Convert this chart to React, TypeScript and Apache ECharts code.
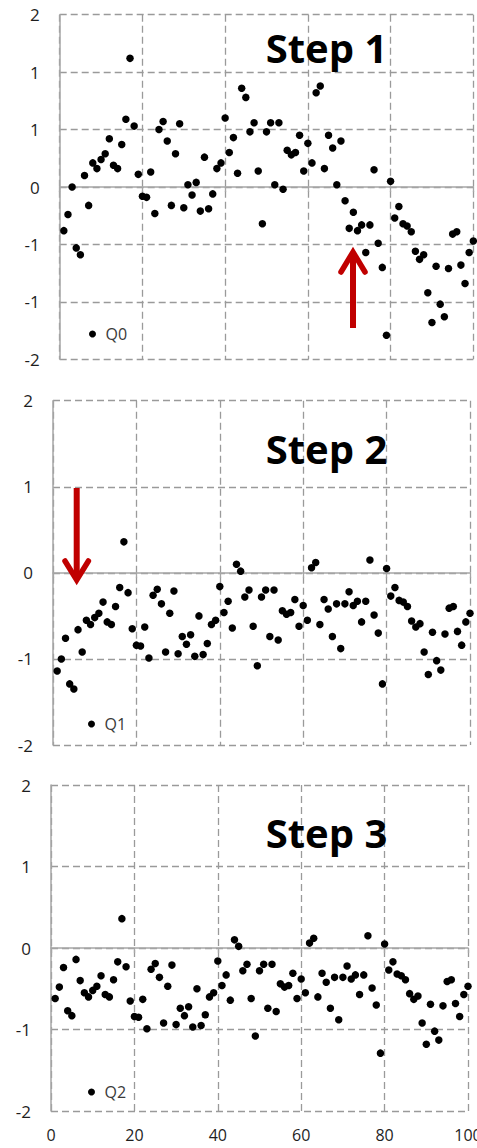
import React, { useEffect, useRef } from "react";
import * as echarts from "echarts";

// Q0: original series (top panel)
const q0 = [
  -0.38, -0.24, 0.0, -0.53, -0.59, 0.1, -0.16, 0.21, 0.16, 0.24,
  0.29, 0.42, 0.19, 0.16, 0.37, 0.59, 1.12, 0.53, 0.11, -0.08,
  -0.09, 0.13, -0.23, 0.5, 0.57, 0.4, -0.16, 0.29, 0.55, -0.18,
  0.02, -0.07, 0.04, -0.21, 0.26, -0.19, -0.06, 0.16, 0.21, 0.6,
  0.3, 0.43, 0.12, 0.86, 0.78, 0.48, 0.56, 0.14, -0.32, 0.48,
  0.56, 0.02, 0.56, -0.02, 0.32, 0.28, 0.3, 0.45, 0.14, 0.38,
  0.21, 0.82, 0.88, 0.16, 0.45, 0.34, 0.02, 0.4, -0.12, -0.36,
  -0.22, -0.38, -0.33, -0.57, -0.33, 0.15, -0.49, -0.7, -1.29, 0.05,
  -0.27, -0.17, -0.32, -0.34, -0.39, -0.56, -0.63, -0.59, -0.92, -1.18,
  -0.69, -1.02, -1.13, -0.71, -0.41, -0.39, -0.68, -0.84, -0.57, -0.47,
];

// Q1: after step 1 (middle panel)
const q1 = [
  -1.14, -1.0, -0.76, -1.29, -1.35, -0.66, -0.92, -0.55, -0.6, -0.52,
  -0.47, -0.34, -0.57, -0.6, -0.39, -0.17, 0.36, -0.23, -0.65, -0.84,
  -0.85, -0.63, -0.99, -0.26, -0.19, -0.36, -0.92, -0.47, -0.21, -0.94,
  -0.74, -0.83, -0.72, -0.97, -0.5, -0.95, -0.82, -0.6, -0.55, -0.16,
  -0.46, -0.33, -0.64, 0.1, 0.02, -0.28, -0.2, -0.62, -1.08, -0.28,
  -0.2, -0.74, -0.2, -0.78, -0.44, -0.48, -0.46, -0.31, -0.62, -0.38,
  -0.55, 0.06, 0.12, -0.6, -0.31, -0.42, -0.74, -0.36, -0.88, -0.36,
  -0.22, -0.38, -0.33, -0.57, -0.33, 0.15, -0.49, -0.7, -1.29, 0.05,
  -0.27, -0.17, -0.32, -0.34, -0.39, -0.56, -0.63, -0.59, -0.92, -1.18,
  -0.69, -1.02, -1.13, -0.71, -0.41, -0.39, -0.68, -0.84, -0.57, -0.47,
];

// Q2: after step 2 (bottom panel)
const q2 = [
  -0.62, -0.48, -0.24, -0.77, -0.83, -0.14, -0.4, -0.55, -0.6, -0.52,
  -0.47, -0.34, -0.57, -0.6, -0.39, -0.17, 0.36, -0.23, -0.65, -0.84,
  -0.85, -0.63, -0.99, -0.26, -0.19, -0.36, -0.92, -0.47, -0.21, -0.94,
  -0.74, -0.83, -0.72, -0.97, -0.5, -0.95, -0.82, -0.6, -0.55, -0.16,
  -0.46, -0.33, -0.64, 0.1, 0.02, -0.28, -0.2, -0.62, -1.08, -0.28,
  -0.2, -0.74, -0.2, -0.78, -0.44, -0.48, -0.46, -0.31, -0.62, -0.38,
  -0.55, 0.06, 0.12, -0.6, -0.31, -0.42, -0.74, -0.36, -0.88, -0.36,
  -0.22, -0.38, -0.33, -0.57, -0.33, 0.15, -0.49, -0.7, -1.29, 0.05,
  -0.27, -0.17, -0.32, -0.34, -0.39, -0.56, -0.63, -0.59, -0.92, -1.18,
  -0.69, -1.02, -1.13, -0.71, -0.41, -0.39, -0.68, -0.84, -0.57, -0.47,
];

const seriesNames = ["Q0", "Q1", "Q2"];
const stepLabels = ["Step 1", "Step 2", "Step 3"];

const FONT = "'Open Sans', 'Liberation Sans', sans-serif";
const GRID_COLOR = "#9a9a9a";
const AXIS_COLOR = "#a6a6a6";
const LABEL_COLOR = "#1e1e1e";
const ARROW_COLOR = "#c00000";

const excelRound = (v: number) => {
  const r = Math.round(Math.abs(v) + 1e-9);
  const s = v < 0 && r !== 0 ? "-" : "";
  return s + r;
};

const splitLine = {
  show: true,
  lineStyle: { color: GRID_COLOR, width: 1.3, type: [7, 4] as any },
};

function makeX(gridIndex: number, extra: any = {}) {
  return {
    type: "value",
    gridIndex,
    min: 0,
    max: 100,
    interval: 20,
    position: "bottom",
    axisLine: { show: true, onZero: true, lineStyle: { color: AXIS_COLOR, width: 1.5 } },
    axisTick: { show: true, length: 5, lineStyle: { color: AXIS_COLOR, width: 1.3 } },
    axisLabel: { show: false },
    splitLine,
    ...extra,
  };
}

function makeY(gridIndex: number, min: number, max: number, interval: number) {
  return {
    type: "value",
    gridIndex,
    min,
    max,
    interval,
    axisLine: { show: true, onZero: false, lineStyle: { color: AXIS_COLOR, width: 1.5 } },
    axisTick: { show: false },
    axisLabel: {
      show: true,
      margin: 20,
      fontSize: 17,
      fontFamily: FONT,
      color: LABEL_COLOR,
      formatter: (v: number) => excelRound(v),
    },
    splitLine,
  };
}

export default function App() {
  const ref = useRef<HTMLDivElement>(null);

  useEffect(() => {
    if (!ref.current) return;
    const chart = echarts.init(ref.current, undefined, { renderer: "svg" });
    const toData = (arr: number[]) => arr.map((v, i) => [i + 1, v]);

    const legendAt = (name: string, left: number, top: number) => ({
      data: [name],
      left,
      top,
      padding: 0,
      icon: "circle",
      itemWidth: 16,
      itemHeight: 7,
      selectedMode: false,
      textStyle: { fontSize: 16, fontFamily: FONT, color: "#3a3a3a" },
    });

    const stepText = (text: string, x: number, y: number) => ({
      type: "text",
      x,
      y,
      z: 100,
      style: {
        text,
        fill: "#000",
        fontSize: 40,
        fontWeight: "bold",
        fontFamily: FONT,
        align: "center",
        verticalAlign: "middle",
      },
    });

    const option: any = {
      animation: false,
      backgroundColor: "#fff",
      grid: [
        { left: 59.7, top: 14.7, width: 413.6, height: 344.6, outerBoundsMode: "none" },
        { left: 53, top: 400.7, width: 417, height: 344.3, outerBoundsMode: "none" },
        { left: 51, top: 785, width: 417, height: 326, outerBoundsMode: "none" },
      ],
      xAxis: [
        makeX(0),
        makeX(1),
        makeX(2, { position: "top", axisTick: { show: true, inside: true, length: 5, lineStyle: { color: AXIS_COLOR, width: 1.3 } } }),
        {
          type: "value",
          gridIndex: 2,
          min: 0,
          max: 100,
          interval: 20,
          position: "bottom",
          axisLine: { show: false, onZero: false },
          axisTick: { show: false },
          splitLine: { show: false },
          axisLabel: { show: true, margin: 15, fontSize: 16, lineHeight: 18, fontFamily: FONT, color: LABEL_COLOR },
        },
      ],
      yAxis: [makeY(0, -1.5, 1.5, 0.5), makeY(1, -2, 2, 1), makeY(2, -2, 2, 1)],
      legend: [
        legendAt(seriesNames[0], 89, 326),
        legendAt(seriesNames[1], 88, 716),
        legendAt(seriesNames[2], 88, 1084),
      ],
      series: [q0, q1, q2].map((arr, i) => ({
        name: seriesNames[i],
        type: "scatter",
        xAxisIndex: i,
        yAxisIndex: i,
        symbol: "circle",
        symbolSize: 7.5,
        itemStyle: { color: "#000", opacity: 1 },
        data: toData(arr),
      })),
      graphic: [
        stepText(stepLabels[0], 326.5, 47.5),
        stepText(stepLabels[1], 326.5, 448),
        stepText(stepLabels[2], 326.5, 832),
        {
          type: "line",
          z: 100,
          shape: { x1: 353, y1: 254, x2: 353, y2: 328 },
          style: { stroke: ARROW_COLOR, lineWidth: 6 },
        },
        {
          type: "polyline",
          z: 100,
          shape: { points: [[341, 272], [353, 252], [365, 272]] },
          style: { stroke: ARROW_COLOR, lineWidth: 5.5, fill: "none", lineCap: "round", lineJoin: "miter" },
        },
        {
          type: "line",
          z: 100,
          shape: { x1: 76.7, y1: 488, x2: 76.7, y2: 578 },
          style: { stroke: ARROW_COLOR, lineWidth: 6 },
        },
        {
          type: "polyline",
          z: 100,
          shape: { points: [[65, 561], [76.7, 580], [88.4, 561]] },
          style: { stroke: ARROW_COLOR, lineWidth: 5.5, fill: "none", lineCap: "round", lineJoin: "miter" },
        },
      ],
    };

    chart.setOption(option);
    return () => chart.dispose();
  }, []);

  return (
    <div
      ref={ref}
      style={{ position: "absolute", left: 0, top: 0, width: 477, height: 1148 }}
    />
  );
}
